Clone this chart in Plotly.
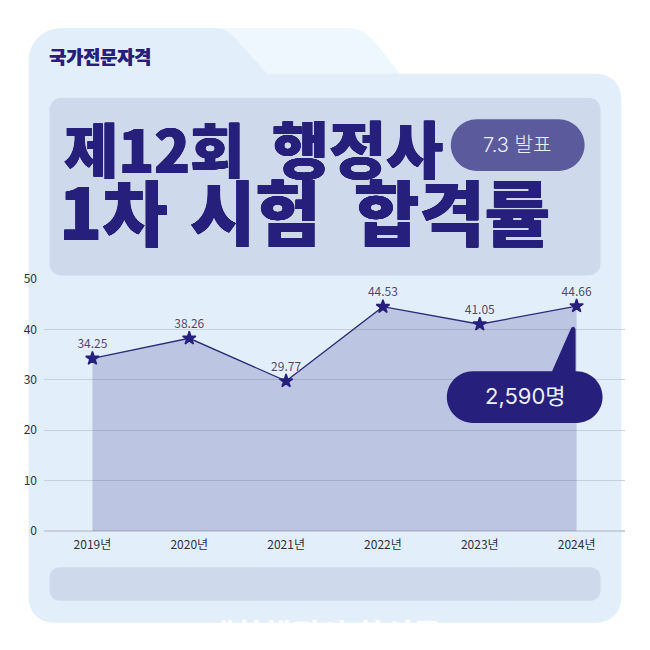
import plotly.graph_objects as go

# Chart data
years = ["2019년", "2020년", "2021년", "2022년", "2023년", "2024년"]
pass_rates = [34.25, 38.26, 29.77, 44.53, 41.05, 44.66]
y_ticks = [0, 10, 20, 30, 40, 50]

NAVY = "#26207c"
FONT = "Noto Sans CJK KR"
THIN = "Inter, Noto Sans CJK KR"

# plot area in page pixels
PLOT_L, PLOT_R, PLOT_T, PLOT_B = 43.5, 625.5, 278.5, 531.5


def px(x):
    return (x - PLOT_L) / (PLOT_R - PLOT_L)


def py(y):
    return (PLOT_B - y) / (PLOT_B - PLOT_T)


def path(points):
    # points in page pixels, either (x, y) or a curve of 3 points
    out = []
    for i, p in enumerate(points):
        if len(p) == 2:
            out.append(f"{'M' if i == 0 else 'L'} {px(p[0]):.5f} {py(p[1]):.5f}")
        else:
            out.append("C " + " ".join(f"{px(q[0]):.5f} {py(q[1]):.5f}" for q in p))
    return " ".join(out) + " Z"


def round_rect(x0, y0, x1, y1, r):
    k = r * 0.45
    return path([
        (x0 + r, y0), (x1 - r, y0),
        ((x1 - k, y0), (x1, y0 + k), (x1, y0 + r)),
        (x1, y1 - r),
        ((x1, y1 - k), (x1 - k, y1), (x1 - r, y1)),
        (x0 + r, y1),
        ((x0 + k, y1), (x0, y1 - k), (x0, y1 - r)),
        (x0, y0 + r),
        ((x0, y0 + k), (x0 + k, y0), (x0 + r, y0)),
    ])


def add_shape(d, color, layer="below"):
    fig.add_shape(type="path", path=d, xref="paper", yref="paper", fillcolor=color,
                  line_width=0, layer=layer)


def add_text(x, y, text, size, color, family=FONT, weight=None, shadow=None):
    fig.add_annotation(x=px(x), y=py(y), xref="paper", yref="paper", text=text, showarrow=False,
                       xanchor="center", yanchor="middle",
                       font=dict(family=family, size=size, color=color, weight=weight, shadow=shadow))


fig = go.Figure()

# Rate line with filled area
fig.add_trace(go.Scatter(
    x=years, y=pass_rates,
    mode="lines+markers+text",
    line=dict(color="#2d2a78", width=1.3),
    marker=dict(symbol="star", size=10, color=NAVY, line=dict(color=NAVY, width=1.5)),
    fill="tozeroy", fillcolor="rgba(38,32,124,0.2)",
    text=[f"{v:.2f}" for v in pass_rates],
    textposition="top center",
    textfont=dict(family=FONT, size=12, color="#4a4570", shadow="0 0 2px #ffffff"),
    cliponaxis=False,
    showlegend=False,
    hoverinfo="skip",
))

# Folder background
add_shape(path([(210, 26.5), (345, 26.5), ((365, 26.5), (372, 37), (380, 47)), (400, 72.5), (300, 100), (210, 100)]), "#eef6fe")
add_shape(path([
    (62, 26.5), (212, 26.5), ((226, 26.5), (232, 33), (238, 40)), (267, 72.5), (596, 72.5),
    ((612, 72.5), (622, 83), (622, 99)), (622, 597), ((622, 613), (612, 623.5), (596, 623.5)),
    (54, 623.5), ((38, 623.5), (28, 613), (28, 597)), (28, 61), ((28, 41), (42, 26.5), (62, 26.5)),
]), "#e2effb")

# Title panel and bottom panel
add_shape(round_rect(49, 96.5, 601, 275, 12), "#cfd9ec")
add_shape(round_rect(49, 568, 601, 601.5, 10), "#cfd9ec")

# Badge and callout
add_shape(round_rect(451, 118, 585, 170, 26), "#5b5a9d", "above")
add_shape(path([
    (552, 372), (571, 329), ((573, 325), (576, 326), (576, 331)), (576, 372),
]), NAVY, "above")
add_shape(round_rect(447, 371, 603, 423, 26), NAVY, "above")

thick = f"0.6px 0 0 {NAVY}, -0.6px 0 0 {NAVY}, 0 0.4px 0 {NAVY}, 0 -0.4px 0 {NAVY}"
add_text(99.5, 55, "국가전문자격", 18.5, NAVY, weight=900, shadow=f"0.5px 0 0 {NAVY}")
# Title words placed one by one, the poster font is wider than anything installed
add_text(153.5, 146, "제12회", 59, NAVY, weight=900, shadow=thick)
add_text(358, 146, "행정사", 62, NAVY, weight=900, shadow=thick)
add_text(113, 208, "1차", 71, NAVY, weight=900, shadow=thick)
add_text(255, 208, "시험", 71, NAVY, weight=900, shadow=thick)
add_text(452.5, 208, "합격률", 71, NAVY, weight=900, shadow=thick)
add_text(517, 144, "7.3 발표", 20, "#eceef8", family=THIN, weight=300)
add_text(526, 396, "2,590명", 22, "#eceef8", family=THIN, weight=400)
add_text(323, 633, "대한행정사 합성문", 31, "#ffffff", weight=700)

fig.update_layout(
    width=650, height=650,
    margin=dict(l=PLOT_L, r=650 - PLOT_R, t=PLOT_T, b=650 - PLOT_B, autoexpand=False),
    paper_bgcolor="#ffffff", plot_bgcolor="rgba(0,0,0,0)",
    font=dict(family=FONT, size=12, color="#2f2f3f"),
)
fig.update_xaxes(type="category", categoryorder="array", categoryarray=years, range=[-0.5, 5.5],
                 showgrid=False, zeroline=False, showline=False, ticks="", fixedrange=True,
                 ticklabelstandoff=5)
fig.update_yaxes(range=[0, 50.03], tickvals=y_ticks, showgrid=True, gridcolor="#c8d0dc", gridwidth=1,
                 zeroline=True, zerolinecolor="#c8d0dc", showline=False, ticks="", fixedrange=True,
                 ticklabelstandoff=6)

fig.write_html("out.html", config=dict(displayModeBar=False),
               post_script="document.body.style.margin='0';")
